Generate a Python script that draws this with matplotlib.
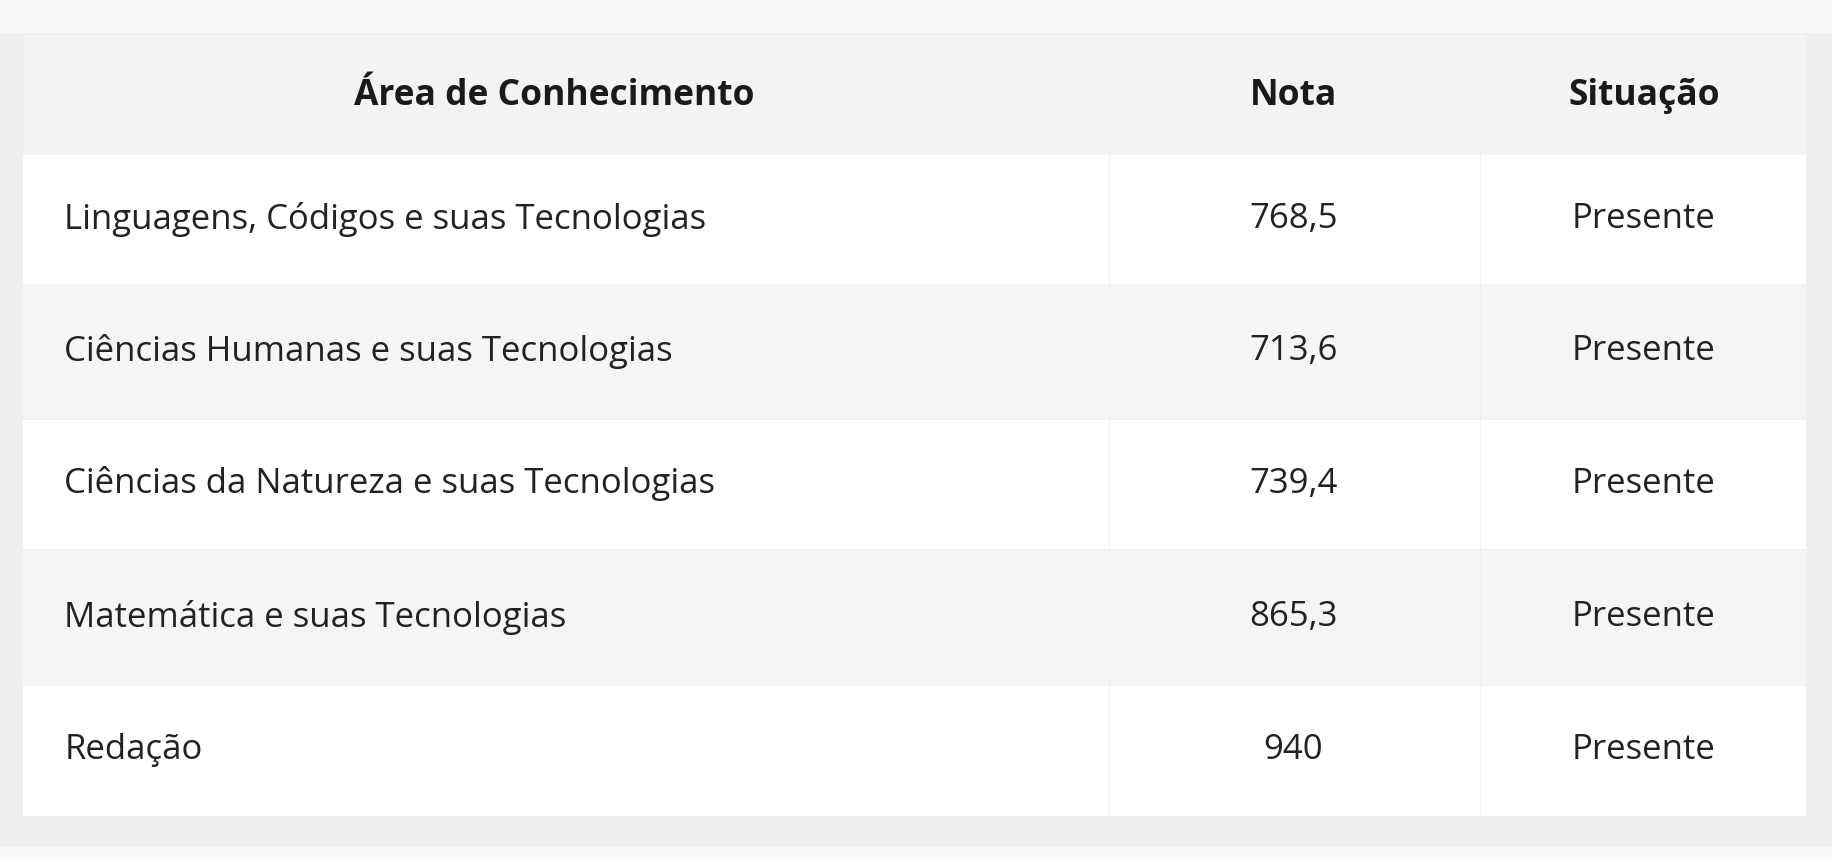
import matplotlib
matplotlib.use("Agg")
import matplotlib.pyplot as plt
from matplotlib.patches import Rectangle

plt.rcParams['font.family'] = ['Open Sans', 'DejaVu Sans']

headers = ["Área de Conhecimento", "Nota", "Situação"]
areas = ["Linguagens, Códigos e suas Tecnologias",
         "Ciências Humanas e suas Tecnologias",
         "Ciências da Natureza e suas Tecnologias",
         "Matemática e suas Tecnologias",
         "Redação"]
notas = ["768,5", "713,6", "739,4", "865,3", "940"]
situacao = ["Presente"] * 5

W, H = 1568, 735
fig = plt.figure(figsize=(18.32, 8.59), dpi=100)
ax = fig.add_axes([0, 0, 1, 1])
ax.set_xlim(0, W); ax.set_ylim(H, 0); ax.axis('off')
fig.patch.set_facecolor('#fafafa')

ax.add_patch(Rectangle((0, 28), W, 696, color='#efefef', zorder=0))
ax.add_patch(Rectangle((20, 30), 1525, 102, color='#f3f3f3', zorder=1))
row_edges = [132, 243, 358, 470, 586, 698]
col_edges = [20, 948, 1266, 1545]
for i in range(len(areas)):
    y0, y1 = row_edges[i], row_edges[i + 1]
    fc = 'white' if i % 2 == 0 else '#f5f5f5'
    for c in range(3):
        ax.add_patch(Rectangle((col_edges[c] + (2 if c else 0), y0 + 1),
                               col_edges[c + 1] - col_edges[c] - (2 if c else 0), y1 - y0 - 2,
                               color=fc, zorder=1))
    yc = (y0 + y1) / 2
    ax.text(55, yc, areas[i], fontsize=25, va='center', ha='left', color='#222222', zorder=3)
    ax.text(1107, yc, notas[i], fontsize=25, va='center', ha='center', color='#222222', zorder=3)
    ax.text(1407, yc, situacao[i], fontsize=25, va='center', ha='center', color='#222222', zorder=3)

hx = [474, 1107, 1407]
for h, x in zip(headers, hx):
    ax.text(x, 82, h, fontsize=25.5, fontweight='bold', va='center', ha='center', color='#1a1a1a', zorder=3)

fig.savefig('out.png', dpi=100, facecolor=fig.get_facecolor())
